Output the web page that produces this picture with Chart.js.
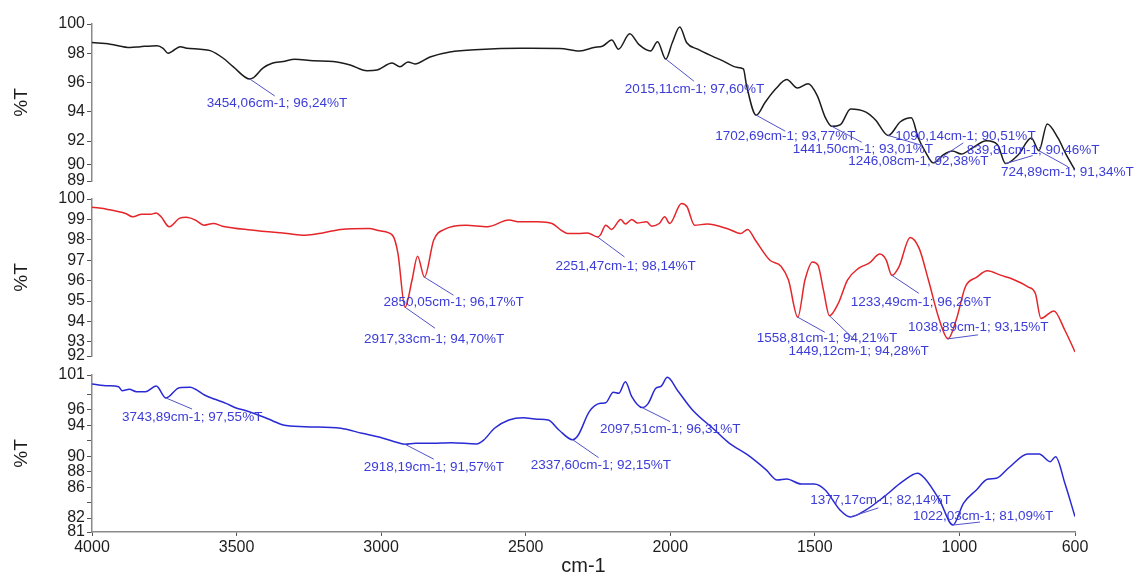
<!DOCTYPE html>
<html>
<head>
<meta charset="utf-8">
<title>FTIR spectra</title>
<script src="https://cdn.jsdelivr.net/npm/chart.js@4.4.1/dist/chart.umd.min.js"></script>
<style>
    html, body { margin: 0; padding: 0; background: #fff; overflow: hidden; }
    #wrap { position: relative; width: 1136px; height: 574px; }
    #wrap canvas { position: absolute; left: 0; }
</style>
</head>
<body>
<div id="wrap">
    <canvas id="spectrum-top" width="1136" height="200" style="top:0px"></canvas>
    <canvas id="spectrum-mid" width="1136" height="200" style="top:175px"></canvas>
    <canvas id="spectrum-bottom" width="1136" height="229" style="top:351px"></canvas>
</div>
<script>
// wavenumber axis (cm-1)
const xTicks = [4000, 3500, 3000, 2500, 2000, 1500, 1000, 600];

// top spectrum (black)
const wn1 = [4000, 3937, 3868, 3833, 3775, 3754, 3737, 3724, 3695, 3672, 3626, 3591, 3546, 3512, 3454.06, 3443, 3408, 3377, 3339, 3298, 3235, 3166, 3107, 3049, 3014, 2962, 2935, 2907, 2883, 2831, 2762, 2658, 2520, 2382, 2313, 2264, 2233, 2202, 2179, 2140, 2109, 2068, 2044, 2015.11, 1993, 1967, 1943, 1905, 1857, 1818, 1770, 1747, 1736, 1702.69, 1671, 1635, 1597, 1560, 1523, 1492, 1463, 1441.5, 1411, 1376, 1325, 1290, 1246.08, 1204, 1166, 1142, 1117, 1090.14, 1055, 1024, 993, 955, 906, 868, 839.81, 796, 751, 724.89, 696, 659, 630, 600];
const t1 = [98.73, 98.62, 98.39, 98.45, 98.52, 98.34, 98.00, 98.11, 98.45, 98.34, 98.28, 98.18, 97.66, 97.09, 96.24, 96.31, 97.00, 97.32, 97.43, 97.59, 97.48, 97.43, 97.20, 96.81, 96.86, 97.34, 97.07, 97.41, 97.27, 97.75, 98.09, 98.26, 98.34, 98.33, 98.16, 98.39, 98.50, 98.91, 98.28, 99.33, 98.61, 98.16, 98.79, 97.60, 98.72, 99.80, 98.72, 98.28, 97.82, 97.48, 97.04, 96.93, 95.80, 93.77, 94.67, 95.57, 96.20, 95.62, 95.91, 95.12, 93.58, 93.01, 93.13, 94.19, 93.99, 93.44, 92.38, 93.32, 93.59, 92.21, 91.25, 90.51, 91.07, 91.32, 91.11, 91.53, 92.02, 91.75, 90.46, 91.07, 92.21, 91.34, 93.17, 92.21, 91.05, 90.02];
const yTicks1 = [100, 98, 96, 94, 92, 90.4, 89.27];
const yLabels1 = ["100", "98", "96", "94", "92", "90", "89"];
const peakWn1 = [3454.06, 2015.11, 1702.69, 1441.50, 1246.08, 1090.14, 839.81, 724.89];
const peakT1 = [96.24, 97.60, 93.77, 93.01, 92.38, 90.51, 90.46, 91.34];

// middle spectrum (red)
const wn2 = [4000, 3945, 3884, 3859, 3828, 3797, 3778, 3761, 3733, 3698, 3674, 3643, 3612, 3580, 3549, 3450, 3325, 3263, 3202, 3140, 3042, 3004, 2961, 2942, 2917.33, 2893, 2874, 2850.05, 2818, 2781, 2707, 2632, 2558, 2521, 2459, 2409, 2378, 2356, 2318, 2286, 2251.47, 2242, 2223, 2203, 2171, 2155, 2133, 2114, 2082, 2064, 2038, 2019, 2002, 1961, 1942, 1916, 1872, 1795, 1757, 1732, 1706, 1656, 1617, 1591, 1558.81, 1534, 1508, 1489, 1470, 1449.12, 1419, 1387, 1349, 1311, 1275, 1253, 1233.49, 1209, 1170, 1139, 1107, 1069, 1038.89, 1011, 979, 941, 903, 858, 813, 763, 737, 718, 673, 635, 600];
const t2 = [99.60, 99.49, 99.29, 99.13, 99.25, 99.25, 99.32, 99.13, 98.64, 99.05, 99.10, 98.97, 98.72, 98.80, 98.67, 98.48, 98.31, 98.23, 98.34, 98.51, 98.56, 98.44, 98.23, 97.35, 94.70, 96.03, 97.20, 96.17, 97.99, 98.51, 98.72, 98.64, 98.97, 98.88, 98.88, 98.80, 98.48, 98.31, 98.31, 98.34, 98.14, 98.23, 98.72, 98.51, 99.00, 98.77, 99.00, 98.83, 98.88, 98.67, 98.80, 99.13, 98.80, 99.78, 99.62, 98.72, 98.77, 98.51, 98.31, 98.51, 97.99, 97.01, 96.71, 96.03, 94.21, 96.03, 96.92, 96.76, 95.54, 94.28, 94.88, 96.03, 96.60, 96.87, 97.30, 97.01, 96.26, 96.68, 98.12, 97.58, 96.03, 94.07, 93.15, 94.07, 95.70, 96.16, 96.48, 96.27, 96.06, 95.70, 95.37, 94.15, 94.52, 93.57, 92.51];
const yTicks2 = [100, 99, 98, 97, 96, 95, 94, 93, 92.31];
const yLabels2 = ["100", "99", "98", "97", "96", "95", "94", "93", "92"];
const peakWn2 = [2917.33, 2850.05, 2251.47, 1558.81, 1449.12, 1233.49, 1038.89];
const peakT2 = [94.70, 96.17, 98.14, 94.21, 94.28, 96.26, 93.15];

// bottom spectrum (blue)
const wn3 = [4000, 3945, 3908, 3896, 3871, 3846, 3815, 3778, 3743.89, 3698, 3660, 3642, 3611, 3574, 3537, 3499, 3475, 3425, 3376, 3339, 3264, 3140, 3066, 3004, 2954, 2918.19, 2880, 2831, 2756, 2670, 2645, 2608, 2558, 2509, 2459, 2422, 2385, 2337.6, 2318, 2280, 2242, 2223, 2197, 2178, 2155, 2133, 2097.51, 2076, 2050, 2031, 2010, 1974, 1923, 1846, 1795, 1732, 1668, 1630, 1597, 1547, 1502, 1464, 1413, 1377.17, 1323, 1260, 1197, 1145, 1120, 1069, 1022.03, 986, 941, 903, 872, 827, 763, 724, 686, 667, 635, 600];
const t3 = [99.36, 99.14, 99.01, 98.50, 98.68, 98.37, 98.37, 99.10, 97.55, 98.88, 98.94, 98.68, 97.94, 97.38, 96.86, 96.22, 95.99, 95.35, 94.61, 94.05, 93.83, 93.63, 92.98, 92.46, 91.89, 91.57, 91.70, 91.68, 91.76, 91.59, 92.11, 93.63, 94.70, 95.00, 94.79, 94.70, 93.41, 92.15, 92.76, 95.78, 96.86, 96.94, 98.29, 98.16, 99.66, 97.72, 96.31, 96.86, 98.81, 99.10, 100.23, 98.50, 96.00, 93.41, 91.68, 90.17, 88.23, 86.93, 87.06, 86.41, 86.41, 85.64, 83.05, 82.14, 83.05, 84.77, 86.71, 87.80, 87.15, 84.34, 81.09, 83.91, 85.64, 87.02, 87.15, 88.58, 90.30, 90.30, 89.30, 89.95, 86.50, 82.18];
const yTicks3 = [100.53, 98, 96, 94, 92, 90, 88, 86, 84, 82, 80.19];
const yLabels3 = ["101", "", "96", "94", "", "90", "88", "86", "", "82", "81"];
const peakWn3 = [3743.89, 2918.19, 2337.60, 2097.51, 1377.17, 1022.03];
const peakT3 = [97.55, 91.57, 92.15, 96.31, 82.14, 81.09];

// label placement: [leader dx, leader dy, text dx, text dy] in px from the peak
const place1 = [[25, 17, -43, 24], [28, 22, -41, 30], [29, 16, -41, 21], [30, 16, -39, 23], [34, 10, -40, 26], [30, -20, -38, -27], [27, -8, -39, -13], [29, 16, -38, 22]];
const place2 = [[30, 21, -41, 32], [29, 18, -41, 25], [27, 20, -42, 29], [27, 15, -41, 21], [25, 24, -41, 36], [27, 18, -41, 27], [30, -4, -40, -12]];
const place3 = [[26, 11, -44, 19], [29, 15, -41, 23], [26, 18, -42, 26], [28, 14, -42, 22], [28, -9, -40, -17], [27, -3, -40, -9]];

const FONT = '"Liberation Sans", Arial, sans-serif';
Chart.defaults.font.family = FONT;

const comma = v => v.toFixed(2).replace('.', ',');

const peakPlugin = (wns, ts, place) => ({
    id: 'peakLabels',
    afterDatasetsDraw(chart) {
        const { ctx, scales: { x, y } } = chart;
        ctx.save();
        ctx.font = '13.5px ' + FONT;
        ctx.textBaseline = 'middle';
        ctx.textAlign = 'left';
        wns.forEach((w, i) => {
            const px = x.getPixelForValue(w);
            const py = y.getPixelForValue(ts[i]);
            const [ldx, ldy, tdx, tdy] = place[i];
            ctx.strokeStyle = '#5252c8';
            ctx.lineWidth = 1;
            ctx.beginPath();
            ctx.moveTo(px, py);
            ctx.lineTo(px + ldx, py + ldy);
            ctx.stroke();
            ctx.fillStyle = '#3c3cd8';
            ctx.fillText(comma(w) + 'cm-1; ' + comma(ts[i]) + '%T', px + tdx, py + tdy);
        });
        ctx.restore();
    }
});

const makeSpectrum = (id, wn, t, color, yTicks, yLabels, peaks, isBottom) => {
    const yMin = yTicks[yTicks.length - 1];
    const yMax = yTicks[0];
    return new Chart(document.getElementById(id), {
        type: 'line',
        data: {
            datasets: [{
                data: wn.map((w, i) => ({ x: w, y: t[i] })),
                borderColor: color,
                borderWidth: 1.5,
                pointRadius: 0,
                fill: false,
                cubicInterpolationMode: 'monotone'
            }]
        },
        options: {
            responsive: false,
            animation: false,
            layout: { padding: { left: 0, right: 61, top: 24, bottom: isBottom ? 0 : 19 } },
            plugins: { legend: { display: false }, tooltip: { enabled: false } },
            scales: {
                x: {
                    type: 'linear',
                    reverse: true,
                    min: 600,
                    max: 4000,
                    display: isBottom,
                    afterBuildTicks: s => { s.ticks = xTicks.map(v => ({ value: v })); },
                    afterFit: s => { s.height = isBottom ? 48 : 0; },
                    ticks: {
                        autoSkip: false,
                        maxRotation: 0,
                        padding: 2,
                        color: '#1e1e1e',
                        font: { size: 16 },
                        callback: v => String(v)
                    },
                    grid: { drawOnChartArea: false, tickLength: 4, color: '#555' },
                    border: { color: '#8a8a8a', width: 1.5 },
                    title: { display: true, text: 'cm-1', color: '#1e1e1e', font: { size: 20 }, padding: { top: 0, bottom: 1.5 } }
                },
                y: {
                    type: 'linear',
                    position: 'left',
                    min: yMin,
                    max: yMax,
                    afterBuildTicks: s => { s.ticks = yTicks.map(v => ({ value: v })); },
                    afterFit: s => { s.width = 92; },
                    ticks: {
                        autoSkip: false,
                        padding: 2,
                        color: '#1e1e1e',
                        font: { size: 16 },
                        callback: (v, i) => yLabels[i]
                    },
                    grid: { drawOnChartArea: false, tickLength: 5, color: '#555' },
                    border: { color: '#8a8a8a', width: 1.5 },
                    title: { display: true, text: '%T', color: '#1e1e1e', font: { size: 19 }, padding: { top: 10, bottom: 0 } }
                }
            }
        },
        plugins: [peakPlugin(peaks[0], peaks[1], peaks[2])]
    });
};

makeSpectrum('spectrum-top', wn1, t1, '#1c1c1c', yTicks1, yLabels1, [peakWn1, peakT1, place1], false);
makeSpectrum('spectrum-mid', wn2, t2, '#e4262b', yTicks2, yLabels2, [peakWn2, peakT2, place2], false);
makeSpectrum('spectrum-bottom', wn3, t3, '#2a2ad4', yTicks3, yLabels3, [peakWn3, peakT3, place3], true);
</script>
</body>
</html>
